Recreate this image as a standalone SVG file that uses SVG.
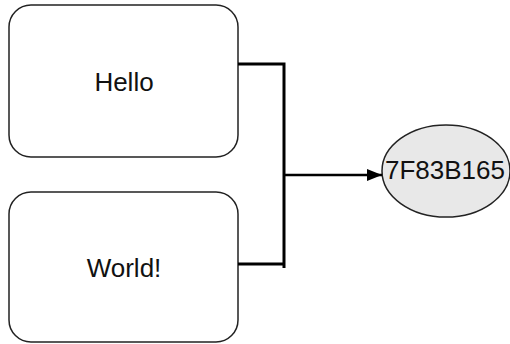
<svg xmlns="http://www.w3.org/2000/svg" width="510" height="344" viewBox="0 0 510 344">
<style>
.box{fill:#fff;stroke:#222;stroke-width:1.5}
.lbl{font-family:"Liberation Sans",Arial,sans-serif;font-size:26px;fill:#111;text-anchor:middle}
.con{fill:none;stroke:#000;stroke-width:3}
</style>
<defs>
<marker id="arr" markerWidth="15" markerHeight="12" refX="15" refY="6" orient="auto" markerUnits="userSpaceOnUse" viewBox="0 0 15 12">
<path d="M0,0 L15,6 L0,12 z" fill="#000"/>
</marker>
</defs>
<rect width="510" height="344" fill="#fff"/>
<g id="hello">
<rect class="box" x="9" y="5" width="229" height="152" rx="22"/>
<text class="lbl" x="124" y="91">Hello</text>
</g>
<g id="world">
<rect class="box" x="9" y="192" width="229" height="150" rx="22"/>
<text class="lbl" x="124" y="277">World!</text>
</g>
<g id="hash">
<ellipse cx="446" cy="171" rx="64" ry="46" fill="#e8e8e8" stroke="#222" stroke-width="1.5"/>
<text class="lbl" x="445" y="179">7F83B165</text>
</g>
<g id="connectors">
<polyline class="con" points="238,64 284,64 284,268"/>
<polyline class="con" points="238,264 284,264"/>
<line class="con" x1="284" y1="175" x2="382" y2="175" marker-end="url(#arr)" style="stroke-width:2.5"/>
</g>
</svg>
